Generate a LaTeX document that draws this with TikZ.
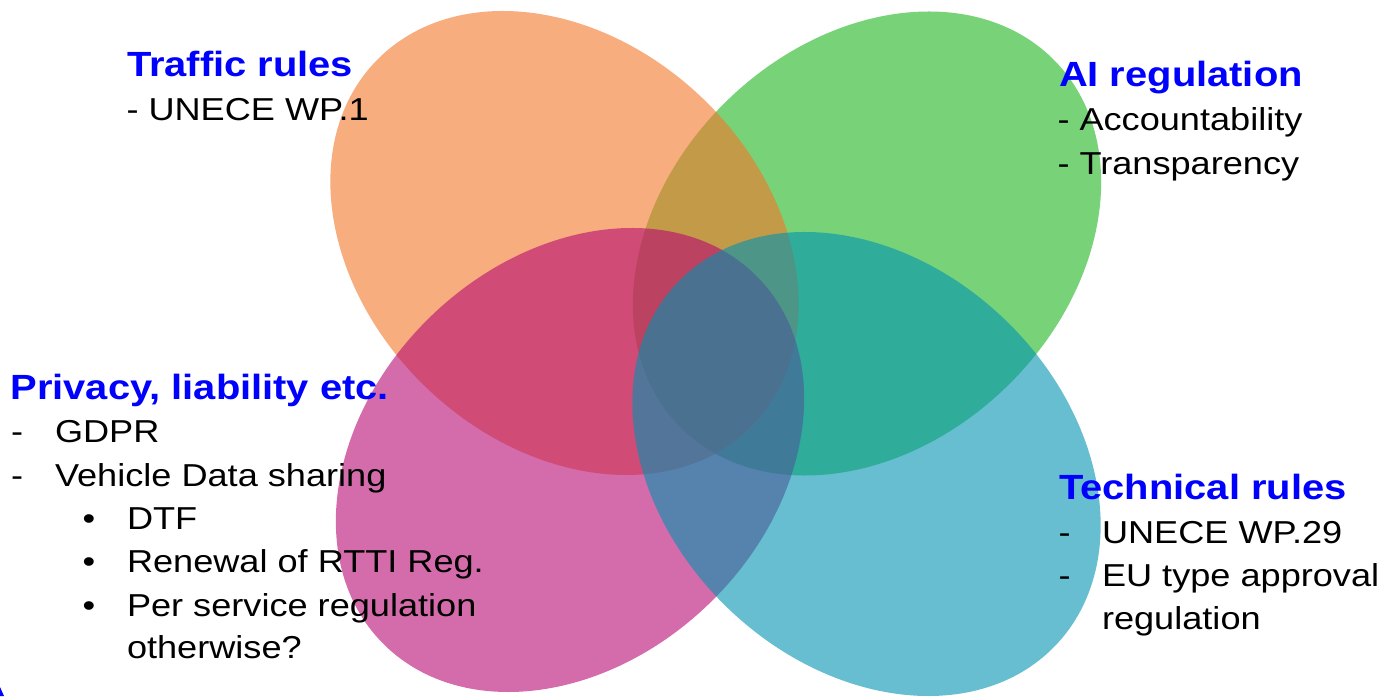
\documentclass[tikz,border=0pt]{standalone}
\usepackage{fontspec}
\setmainfont{Liberation Sans}
\usepackage{graphicx}
\definecolor{cOr}{RGB}{243,118,40}
\definecolor{cGr}{RGB}{30,180,30}
\definecolor{cPk}{RGB}{183,10,115}
\definecolor{cCy}{RGB}{0,147,177}
\definecolor{headblue}{RGB}{0,0,255}
\newcommand{\hx}[1]{\scalebox{1.14}[1]{#1}}
\tikzset{
  venn/.style={fill opacity=0.6, draw=none},
  head/.style={anchor=base west, inner sep=0pt, outer sep=0pt, text=headblue,
    font=\fontsize{35}{42}\selectfont\bfseries},
  body/.style={anchor=base west, inner sep=0pt, outer sep=0pt, text=black,
    font=\fontsize{31.7}{40}\selectfont},
  bul/.style={anchor=base, inner sep=0pt, outer sep=0pt, text=black,
    font=\fontsize{31.7}{40}\selectfont},
}
\begin{document}
\begin{tikzpicture}[x=1pt,y=1pt]
\useasboundingbox (0,0) rectangle (1383,696);
\begin{scope}
\clip (0,0) rectangle (1383,696);
% ellipses (draw order: green, orange, pink, cyan)
\fill[cGr, venn, rotate around={44:(867,452.5)}] (867,452.5) ellipse [x radius=262, y radius=200];
\fill[cOr, venn, rotate around={-44:(564.5,453)}] (564.5,453) ellipse [x radius=262, y radius=200];
\fill[cPk, venn, rotate around={44:(570,236)}] (570,236) ellipse [x radius=262, y radius=200];
\fill[cCy, venn, rotate around={-44:(866.5,232)}] (866.5,232) ellipse [x radius=262, y radius=200];
\fill[headblue] (0,9) -- (4,0) -- (0,0) -- cycle;
\end{scope}
% Traffic rules
\node[head] (trH) at (127,619) {\hx{Traffic rules}};
\node[body] (tr1) at (126.5,575.3) {\hx{- UNECE WP.1}};
% AI regulation
\node[head] (aiH) at (1059,609.3) {\hx{AI regulation}};
\node[body] (ai1) at (1057.5,565.3) {\hx{- Accountability}};
\node[body] (ai2) at (1057.5,521) {\hx{- Transparency}};
% Privacy
\node[head] (prH) at (10.5,296.7) {\hx{Privacy, liability etc.}};
\node[body] (prd1) at (11,253.3) {\hx{-}};
\node[body] (pr1) at (55,253.3) {\hx{GDPR}};
\node[body] (prd2) at (11,209.3) {\hx{-}};
\node[body] (pr2) at (55,209.3) {\hx{Vehicle Data sharing}};
\node[bul] (prb1) at (89,166.7) {\hx{•}};
\node[body] (pr3) at (127,166.7) {\hx{DTF}};
\node[bul] (prb2) at (89,123.3) {\hx{•}};
\node[body] (pr4) at (127,123.3) {\hx{Renewal of RTTI Reg.}};
\node[bul] (prb3) at (89,79.3) {\hx{•}};
\node[body] (pr5) at (127,79.3) {\hx{Per service regulation}};
\node[body] (pr6) at (127,37.7) {\hx{otherwise?}};
% Technical rules
\node[head] (teH) at (1059,196.7) {\hx{Technical rules}};
\node[body] (ted1) at (1058.5,152.7) {\hx{-}};
\node[body] (te1) at (1102,152.7) {\hx{UNECE WP.29}};
\node[body] (ted2) at (1058.5,109.3) {\hx{-}};
\node[body] (te2) at (1102,109.3) {\hx{EU type approval}};
\node[body] (te3) at (1102,66.7) {\hx{regulation}};
\end{tikzpicture}
\end{document}
